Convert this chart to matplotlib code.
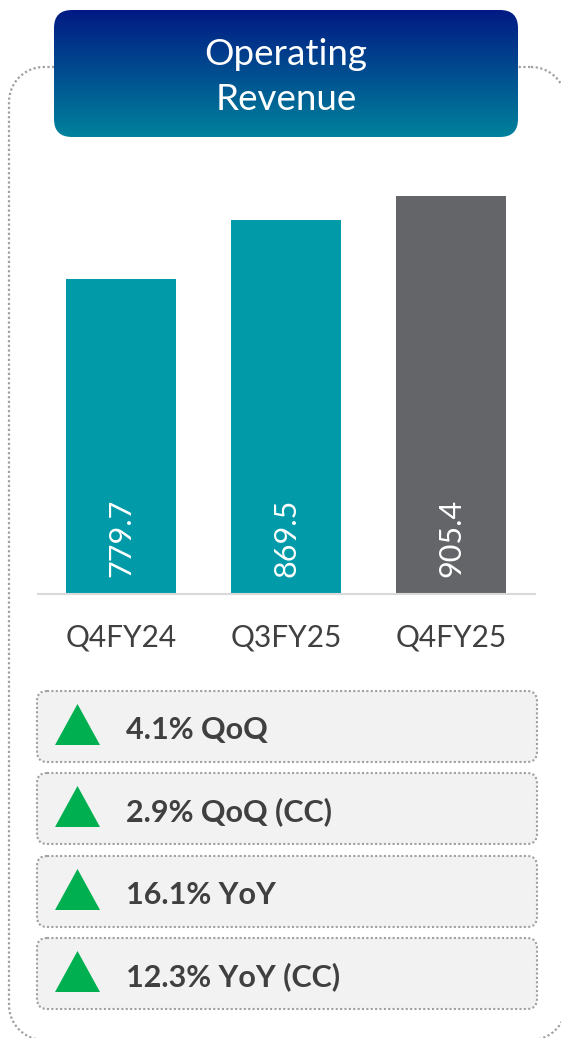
"""Operating revenue panel: quarterly bars plus growth call-outs."""

import numpy as np
import matplotlib

matplotlib.use("Agg")
import matplotlib.pyplot as plt
from matplotlib.patches import FancyBboxPatch, Polygon, PathPatch
from matplotlib.path import Path
from matplotlib.colors import to_rgb

plt.rcParams["font.family"] = ["Lato", "DejaVu Sans"]

# data
title_lines = ["Operating", "Revenue"]
categories = ["Q4FY24", "Q3FY25", "Q4FY25"]
revenue = [779.7, 869.5, 905.4]
metric_labels = ["4.1% QoQ", "2.9% QoQ (CC)", "16.1% YoY", "12.3% YoY (CC)"]

# styles
bar_colors = ["#009aa8", "#009aa8", "#646569"]
text_dark = "#404040"
dot_grey = "#a0a0a0"
W, H = 561, 1038


def rounded_rect(x0, y0, x1, y1, r, n=24):
    """Closed outline of a rounded rectangle, built from straight runs and arcs."""
    pts = []
    corners = [(x1 - r, y0 + r, -90, 0), (x1 - r, y1 - r, 0, 90),
               (x0 + r, y1 - r, 90, 180), (x0 + r, y0 + r, 180, 270)]
    for cx, cy, a0, a1 in corners:
        a = np.radians(np.linspace(a0, a1, n))
        pts.extend(zip(cx + r * np.cos(a), cy + r * np.sin(a)))
    pts.append(pts[0])
    return Path(pts)


fig = plt.figure(figsize=(W / 100, H / 100), dpi=100)

# pixel-space canvas for the panel decorations
bg = fig.add_axes([0, 0, 1, 1])
bg.set_xlim(0, W)
bg.set_ylim(H, 0)
bg.axis("off")

# outer dotted frame (runs partly off the canvas, like the slide crop)
frame = PathPatch(rounded_rect(9, 67, 566, 1040, 35), fill=False, ec=dot_grey,
                  lw=1.6, ls=(0, (1, 1.1)), zorder=1)
bg.add_patch(frame)

# title box with vertical gradient
tbox = FancyBboxPatch((54, 10), 464, 127, boxstyle="round,pad=0,rounding_size=18",
                      fc="none", ec="none", zorder=2)
bg.add_patch(tbox)
top_c, bot_c = np.array(to_rgb("#021a84")), np.array(to_rgb("#00829c"))
t = np.linspace(0, 1, 200)[:, None, None]
grad = top_c * (1 - t) + bot_c * t
img = bg.imshow(grad, extent=(54, 518, 137, 10), aspect="auto", zorder=2,
                interpolation="bilinear")
img.set_clip_path(tbox)
bg.set_xlim(0, W)
bg.set_ylim(H, 0)
for line, y in zip(title_lines, [65, 110]):
    bg.text(286, y, line, color="white", fontsize=26.5, ha="center", va="baseline",
            zorder=3)

# growth call-out boxes
box_tops = [691, 773, 856, 938]
for label, top in zip(metric_labels, box_tops):
    bg.add_patch(FancyBboxPatch((37, top), 500, 71, boxstyle="round,pad=0,rounding_size=10",
                                fc="#f2f2f2", ec=dot_grey, lw=1.5, ls=(0, (1, 1.1)), zorder=2))
    bg.add_patch(Polygon([[55, top + 54], [100, top + 54], [77.5, top + 13]],
                         closed=True, fc="#00b050", ec="none", zorder=3))
    bg.text(126, top + 48, label, color=text_dark, fontsize=22, fontweight="bold",
            ha="left", va="baseline", zorder=3)

# bar chart in its own axes, placed over the canvas
ax_left, ax_right = 38, 535
ax_bottom, ax_top = 594, 150
ax = fig.add_axes([ax_left / W, 1 - ax_bottom / H, (ax_right - ax_left) / W,
                   (ax_bottom - ax_top) / H])
ax.patch.set_alpha(0)
x = np.arange(len(categories))
ax.bar(x, revenue, width=0.667, color=bar_colors, zorder=2)
ax.set_xlim(-0.503, 2.509)
ax.set_ylim(302, 975)

for xi, v in zip(x, revenue):
    ax.annotate(f"{v:.1f}", (xi, 302), xytext=(0, 17), textcoords="offset pixels",
                rotation=90, ha="center", va="bottom", color="white", fontsize=22)

ax.set_xticks(x, categories)
ax.tick_params(axis="x", length=0, pad=21, labelsize=21.5, labelcolor=text_dark)
ax.set_yticks([])
for side in ["top", "left", "right"]:
    ax.spines[side].set_visible(False)
ax.spines["bottom"].set_color("#d9d9d9")
ax.spines["bottom"].set_linewidth(1.5)

fig.savefig("out.png", dpi=100)
plt.close(fig)
